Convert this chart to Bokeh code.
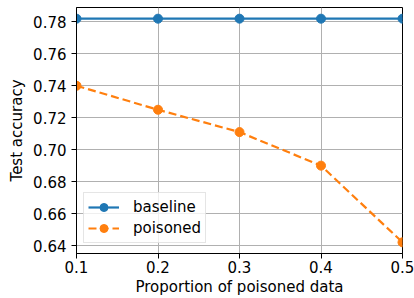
from bokeh.plotting import figure
from bokeh.models import Range1d, FixedTicker, Legend, LegendItem
from bokeh.embed import file_html
from bokeh.resources import INLINE

# data
proportions = [0.1, 0.2, 0.3, 0.4, 0.5]
baseline = [0.782, 0.782, 0.782, 0.782, 0.782]
poisoned = [0.740, 0.725, 0.711, 0.690, 0.642]
x_ticks = [0.1, 0.2, 0.3, 0.4, 0.5]
x_tick_labels = ["0.1", "0.2", "0.3", "0.4", "0.5"]
y_ticks = [0.64, 0.66, 0.68, 0.70, 0.72, 0.74, 0.76, 0.78]
y_tick_labels = ["0.64", "0.66", "0.68", "0.70", "0.72", "0.74", "0.76", "0.78"]

FONT = "DejaVu Sans"
FS = "15px"
BLUE = "#1f77b4"
ORANGE = "#ff7f0e"

p = figure(width=414, height=298, output_backend="svg", toolbar_location=None,
           x_range=Range1d(0.1, 0.5), y_range=Range1d(0.635, 0.789),
           min_border_left=76, min_border_right=12, min_border_top=7, min_border_bottom=44)
p.background_fill_color = "white"
p.border_fill_color = "white"
p.outline_line_color = "black"
p.outline_line_width = 1

# grid
p.xgrid.ticker = FixedTicker(ticks=x_ticks)
p.ygrid.ticker = FixedTicker(ticks=y_ticks)
for g in (p.xgrid, p.ygrid):
    g.grid_line_color = "#b0b0b0"
    g.grid_line_width = 1

# axes
p.xaxis.ticker = FixedTicker(ticks=x_ticks)
p.yaxis.ticker = FixedTicker(ticks=y_ticks)
p.xaxis.major_label_overrides = {t: l for t, l in zip(x_ticks, x_tick_labels)}
p.yaxis.major_label_overrides = {t: l for t, l in zip(y_ticks, y_tick_labels)}
p.xaxis.axis_label = "Proportion of poisoned data"
p.yaxis.axis_label = "Test accuracy"
for ax in (p.xaxis, p.yaxis):
    ax.axis_line_color = "black"
    ax.axis_line_width = 1
    ax.major_tick_line_color = "black"
    ax.major_tick_line_width = 1
    ax.major_tick_out = 5
    ax.major_tick_in = 0
    ax.minor_tick_line_color = None
    ax.major_label_text_font = FONT
    ax.major_label_text_font_size = FS
    ax.major_label_text_color = "black"
    ax.axis_label_text_font = FONT
    ax.axis_label_text_font_size = FS
    ax.axis_label_text_font_style = "normal"
    ax.axis_label_text_color = "black"
p.xaxis.major_label_standoff = 2
p.xaxis.axis_label_standoff = 2
p.yaxis.major_label_standoff = 5
p.yaxis.axis_label_standoff = 4

# series
bl = p.line(proportions, baseline, line_color=BLUE, line_width=2.2)
bs = p.scatter(proportions, baseline, size=9, fill_color=BLUE, line_color=BLUE)
pl = p.line(proportions, poisoned, line_color=ORANGE, line_width=2.2, line_dash="8 4")
ps = p.scatter(proportions, poisoned, size=9, fill_color=ORANGE, line_color=ORANGE)

legend = Legend(items=[LegendItem(label="baseline", renderers=[bl, bs]),
                       LegendItem(label="poisoned", renderers=[pl, ps])],
                location=(7, 10), margin=0, padding=4, spacing=1,
                glyph_width=31, glyph_height=20, label_height=20, label_standoff=14,
                label_text_font=FONT, label_text_font_size=FS, label_text_color="black",
                border_line_color="#cccccc", border_line_width=1,
                background_fill_color="white", background_fill_alpha=0.8)
p.add_layout(legend, "center")

open("out.html", "w").write(file_html(p, INLINE))
